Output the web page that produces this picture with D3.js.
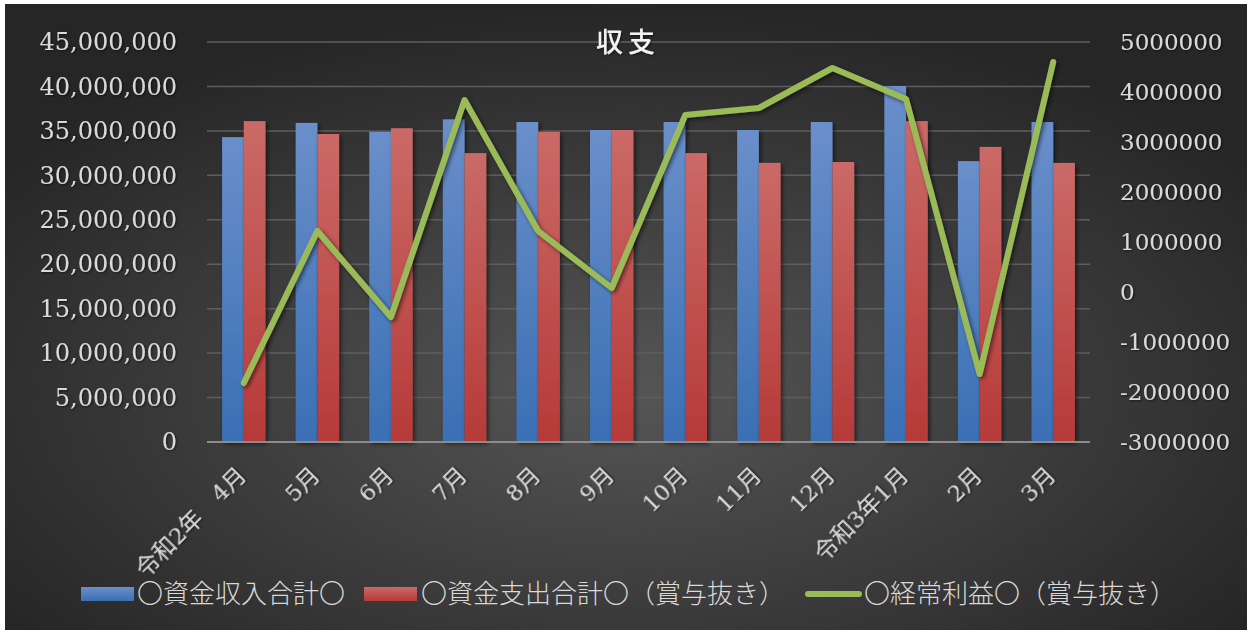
<!DOCTYPE html>
<html>
<head>
<meta charset="utf-8">
<script src="https://cdn.jsdelivr.net/npm/d3@7"></script>
<style>
  html, body { margin: 0; padding: 0; background: #fff; }
  svg { display: block; }
</style>
</head>
<body>
<script>
// Data
const months = ["4月", "5月", "6月", "7月", "8月", "9月", "10月", "11月", "12月", "1月", "2月", "3月"];
const monthLabels = ["令和2年　4月", "5月", "6月", "7月", "8月", "9月", "10月", "11月", "12月", "令和3年1月", "2月", "3月"];
const income = [34.3e6, 35.9e6, 34.9e6, 36.3e6, 36.0e6, 35.1e6, 36.0e6, 35.1e6, 36.0e6, 40.05e6, 31.6e6, 36.0e6];
const expense = [36.1e6, 34.65e6, 35.3e6, 32.5e6, 34.9e6, 35.1e6, 32.5e6, 31.4e6, 31.5e6, 36.1e6, 33.2e6, 31.4e6];
const profit = [-1.82e6, 1.22e6, -0.5e6, 3.84e6, 1.22e6, 0.08e6, 3.54e6, 3.68e6, 4.48e6, 3.86e6, -1.64e6, 4.6e6];
const leftTicks = [0, 5e6, 10e6, 15e6, 20e6, 25e6, 30e6, 35e6, 40e6, 45e6];
const rightTicks = [-3e6, -2e6, -1e6, 0, 1e6, 2e6, 3e6, 4e6, 5e6];
const seriesNames = ["〇資金収入合計〇", "〇資金支出合計〇（賞与抜き）", "〇経常利益〇（賞与抜き）"];

const width = 1252, height = 633;
const plot = { left: 207, right: 1090, top: 42, bottom: 442 };

const svg = d3.select("body").append("svg")
    .attr("width", width)
    .attr("height", height);

const defs = svg.append("defs");

// Background gradient
const bg = defs.append("radialGradient").attr("id", "bg")
    .attr("cx", "50%").attr("cy", "62%").attr("r", "62%");
bg.append("stop").attr("offset", "0%").attr("stop-color", "#565656");
bg.append("stop").attr("offset", "100%").attr("stop-color", "#262626");

const blueGrad = defs.append("linearGradient").attr("id", "blueGrad")
    .attr("x1", 0).attr("y1", 0).attr("x2", 0).attr("y2", 1);
blueGrad.append("stop").attr("offset", "0%").attr("stop-color", "#6a8fca");
blueGrad.append("stop").attr("offset", "100%").attr("stop-color", "#3a6fb4");

const redGrad = defs.append("linearGradient").attr("id", "redGrad")
    .attr("x1", 0).attr("y1", 0).attr("x2", 0).attr("y2", 1);
redGrad.append("stop").attr("offset", "0%").attr("stop-color", "#ca6a67");
redGrad.append("stop").attr("offset", "100%").attr("stop-color", "#b63a38");

const shadow = defs.append("filter").attr("id", "shadow")
    .attr("x", "-20%").attr("y", "-20%").attr("width", "160%").attr("height", "160%");
shadow.append("feDropShadow").attr("dx", 2).attr("dy", 2)
    .attr("stdDeviation", 2).attr("flood-color", "#000").attr("flood-opacity", 0.55);

const textShadow = defs.append("filter").attr("id", "tshadow");
textShadow.append("feDropShadow").attr("dx", 1).attr("dy", 1)
    .attr("stdDeviation", 1).attr("flood-color", "#000").attr("flood-opacity", 0.6);

// Chart area background
svg.append("rect")
    .attr("x", 5).attr("y", 4)
    .attr("width", 1242).attr("height", 626)
    .attr("fill", "url(#bg)");

// Scales
const x = d3.scaleBand()
    .domain(months)
    .range([plot.left, plot.right])
    .paddingInner(0.41)
    .paddingOuter(0.205);

const x1 = d3.scaleBand()
    .domain(["income", "expense"])
    .range([0, x.bandwidth()]);

const yL = d3.scaleLinear().domain([0, 45e6]).range([plot.bottom, plot.top]);
const yR = d3.scaleLinear().domain([-3e6, 5e6]).range([plot.bottom, plot.top]);

// Gridlines
svg.append("g")
    .selectAll("line")
    .data(leftTicks.filter(d => d > 0))
    .join("line")
    .attr("x1", plot.left).attr("x2", plot.right)
    .attr("y1", d => yL(d)).attr("y2", d => yL(d))
    .attr("stroke", "#5e5e5e")
    .attr("stroke-width", 1.5);

// Left axis
const axisFont = "'DejaVu Serif', 'Noto Sans CJK JP', serif";
const gL = svg.append("g")
    .attr("transform", `translate(${plot.left - 27},0)`)
    .call(d3.axisLeft(yL).tickValues(leftTicks).tickSize(0).tickFormat(d3.format(",")));
gL.select(".domain").remove();
gL.selectAll("text")
    .attr("fill", "#d9d9d9")
    .attr("font-family", axisFont)
    .attr("font-size", 24)
    .attr("filter", "url(#tshadow)");

// Right axis
const gR = svg.append("g")
    .attr("transform", `translate(${plot.right + 27},0)`)
    .call(d3.axisRight(yR).tickValues(rightTicks).tickSize(0).tickFormat(d => String(d)));
gR.select(".domain").remove();
gR.selectAll("text")
    .attr("fill", "#d9d9d9")
    .attr("font-family", axisFont)
    .attr("font-size", 23)
    .attr("filter", "url(#tshadow)");

// Bars
const groups = svg.append("g")
    .selectAll("g")
    .data(months.map((m, i) => ({ m, income: income[i], expense: expense[i] })))
    .join("g")
    .attr("transform", d => `translate(${x(d.m)},0)`);

groups.append("rect")
    .attr("x", x1("income"))
    .attr("y", d => yL(d.income))
    .attr("width", x1.bandwidth())
    .attr("height", d => plot.bottom - yL(d.income))
    .attr("fill", "url(#blueGrad)")
    .attr("filter", "url(#shadow)");

groups.append("rect")
    .attr("x", x1("expense"))
    .attr("y", d => yL(d.expense))
    .attr("width", x1.bandwidth())
    .attr("height", d => plot.bottom - yL(d.expense))
    .attr("fill", "url(#redGrad)")
    .attr("filter", "url(#shadow)");

// Category axis line
svg.append("line")
    .attr("x1", plot.left).attr("x2", plot.right)
    .attr("y1", plot.bottom).attr("y2", plot.bottom)
    .attr("stroke", "#8c8c8c")
    .attr("stroke-width", 2);

// Category labels
svg.append("g")
    .selectAll("text")
    .data(months)
    .join("text")
    .attr("transform", d => `translate(${x(d) + x.bandwidth() / 2 - 2},471) rotate(-45)`)
    .attr("text-anchor", "end")
    .attr("dy", "0.35em")
    .attr("fill", "#d9d9d9")
    .attr("font-family", axisFont)
    .attr("font-size", 23)
    .attr("filter", "url(#tshadow)")
    .text((d, i) => monthLabels[i]);

// Profit line
const line = d3.line()
    .x((d, i) => x(months[i]) + x.bandwidth() / 2)
    .y(d => yR(d));

svg.append("path")
    .datum(profit)
    .attr("d", line)
    .attr("fill", "none")
    .attr("stroke", "#9bbb59")
    .attr("stroke-width", 6)
    .attr("stroke-linejoin", "round")
    .attr("stroke-linecap", "round")
    .attr("filter", "url(#shadow)");

// Title
svg.append("text")
    .attr("x", 628).attr("y", 42)
    .attr("dy", "0.36em")
    .attr("text-anchor", "middle")
    .attr("fill", "#f2f2f2")
    .attr("font-family", "'Noto Sans CJK JP', sans-serif")
    .attr("font-size", 27)
    .attr("font-weight", 500)
    .attr("letter-spacing", 5)
    .attr("filter", "url(#tshadow)")
    .text("収支");

// Legend
const legendFont = "'Noto Sans CJK JP', sans-serif";
const legendY = 594;
const legend = svg.append("g");

legend.append("rect")
    .attr("x", 81).attr("y", legendY - 7)
    .attr("width", 53).attr("height", 14)
    .attr("fill", "url(#blueGrad)");
legend.append("text")
    .attr("x", 137).attr("y", legendY).attr("dy", "0.36em")
    .text(seriesNames[0]);

legend.append("rect")
    .attr("x", 364).attr("y", legendY - 7)
    .attr("width", 53).attr("height", 14)
    .attr("fill", "url(#redGrad)");
legend.append("text")
    .attr("x", 421).attr("y", legendY).attr("dy", "0.36em")
    .text(seriesNames[1]);

legend.append("line")
    .attr("x1", 808).attr("x2", 859)
    .attr("y1", legendY).attr("y2", legendY)
    .attr("stroke", "#9bbb59")
    .attr("stroke-width", 6)
    .attr("stroke-linecap", "round");
legend.append("text")
    .attr("x", 864).attr("y", legendY).attr("dy", "0.36em")
    .text(seriesNames[2]);

legend.selectAll("text")
    .attr("fill", "#d9d9d9")
    .attr("font-family", legendFont)
    .attr("font-weight", 300)
    .attr("font-size", 26);
</script>
</body>
</html>
